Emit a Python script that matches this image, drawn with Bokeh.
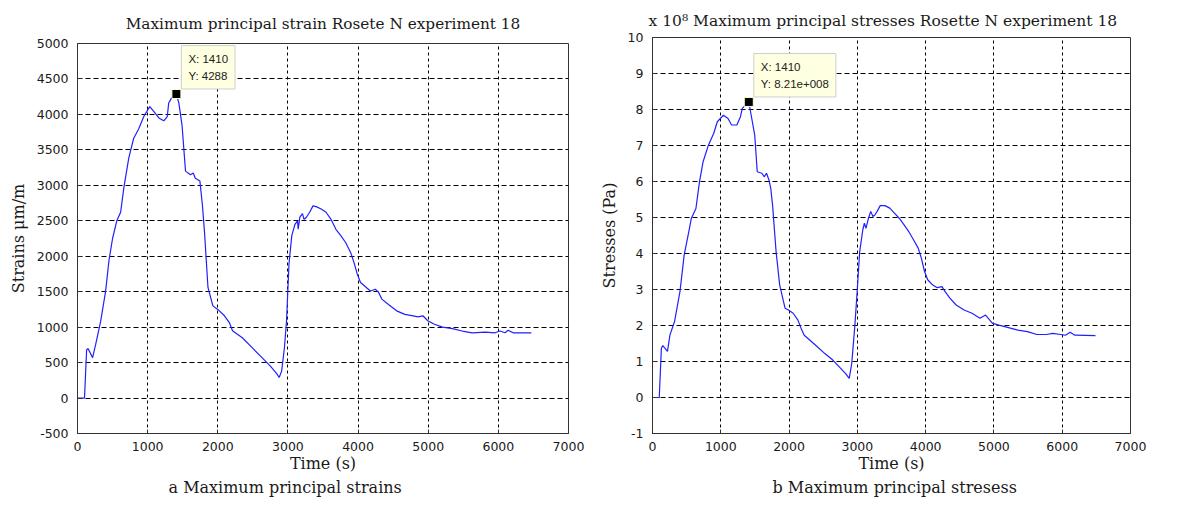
from bokeh.plotting import figure
from bokeh.models import Range1d, SingleIntervalTicker, Label, Title, PrintfTickFormatter
from bokeh.layouts import row, column
from bokeh.embed import file_html
from bokeh.resources import INLINE

# ---------------- data ----------------
strain_time = [0, 100, 130, 150, 215, 260, 330, 400, 450, 500, 560, 615, 660, 730, 800, 875,
               945, 1030, 1090, 1160, 1230, 1280, 1300, 1340, 1410, 1445, 1490, 1540, 1610,
               1650, 1680, 1745, 1780, 1810, 1860, 1930, 2000, 2095, 2165, 2210, 2350, 2490,
               2630, 2750, 2840, 2875, 2910, 2950, 2980, 3015, 3055, 3100, 3137, 3146, 3170,
               3207, 3230, 3263, 3310, 3357, 3403, 3474, 3544, 3614, 3684, 3754, 3825, 3895,
               3942, 3988, 4035, 4105, 4175, 4246, 4293, 4339, 4433, 4550, 4667, 4784, 4854,
               4924, 4994, 5088, 5205, 5345, 5485, 5626, 5813, 5953, 6023, 6094, 6140, 6211, 6470]
strain_vals = [0, 0, 680, 700, 570, 760, 1080, 1500, 1950, 2250, 2500, 2620, 2960, 3380, 3660,
               3800, 3970, 4110, 4040, 3950, 3910, 3970, 4160, 4230, 4288, 4160, 3850, 3200, 3150,
               3175, 3100, 3060, 2730, 2350, 1560, 1300, 1250, 1160, 1065, 950, 850, 710, 570, 450,
               345, 290, 380, 710, 1090, 1890, 2290, 2450, 2500, 2380, 2550, 2600, 2520, 2550,
               2620, 2710, 2700, 2665, 2620, 2520, 2380, 2290, 2190, 2050, 1910, 1750, 1630, 1570,
               1510, 1535, 1490, 1395, 1320, 1230, 1180, 1160, 1145, 1160, 1090, 1040, 1000, 980,
               945, 920, 930, 920, 945, 920, 955, 920, 920]

stress_time = [0, 99, 130, 151, 219, 256, 323, 402, 464, 532, 569, 636, 688, 741, 819, 897, 949,
               1038, 1106, 1158, 1236, 1288, 1315, 1350, 1410, 1445, 1497, 1534, 1601, 1638, 1669,
               1706, 1732, 1758, 1810, 1862, 1941, 1991, 2060, 2130, 2176, 2222, 2385, 2524, 2640,
               2756, 2825, 2881, 2918, 2964, 2997, 3034, 3080, 3103, 3126, 3163, 3196, 3228, 3256,
               3289, 3335, 3404, 3474, 3543, 3613, 3682, 3752, 3822, 3891, 3937, 3984, 4030, 4100,
               4169, 4239, 4285, 4355, 4447, 4563, 4679, 4795, 4878, 4980, 5073, 5212, 5351, 5490,
               5629, 5768, 5861, 5977, 6046, 6116, 6185, 6487]
stress_1e8 = [0, 0, 1.37, 1.44, 1.28, 1.74, 2.11, 2.94, 3.96, 4.61, 4.98, 5.25, 5.99, 6.55, 7.01,
              7.34, 7.66, 7.84, 7.75, 7.57, 7.57, 7.80, 8.03, 8.10, 8.21, 7.84, 7.29, 6.27, 6.23,
              6.13, 6.23, 6.04, 5.81, 5.35, 4.05, 3.13, 2.48, 2.43, 2.34, 2.15, 1.92, 1.73, 1.46,
              1.22, 1.04, 0.81, 0.67, 0.53, 0.95, 2.01, 2.94, 4.05, 4.66, 4.84, 4.70, 4.98, 5.17,
              5.03, 5.07, 5.17, 5.33, 5.33, 5.26, 5.12, 4.98, 4.80, 4.61, 4.38, 4.15, 3.87, 3.50,
              3.27, 3.13, 3.05, 3.08, 2.94, 2.76, 2.57, 2.43, 2.34, 2.20, 2.29, 2.06, 2.01, 1.94,
              1.87, 1.83, 1.75, 1.75, 1.78, 1.75, 1.73, 1.81, 1.73, 1.72]

tip_x = 1410
strain_tip_y = 4288
stress_tip_y = 8.21
strain_tip_text = "X: 1410\nY: 4288"
stress_tip_text = "X: 1410\nY: 8.21e+008"

title_a = "Maximum principal strain Rosete N experiment 18"
title_b = "x 10\u2078 Maximum principal stresses Rosette N experiment 18"
caption_a = "a  Maximum principal strains"
caption_b = "b  Maximum principal  stresess"

# ---------------- styling helpers ----------------
SERIF = "DejaVu Serif"
SANS = "DejaVu Sans"
LINE = "#2020ff"
INK = "#1a1a1a"


def style(p, xlab, ylab, yint, title_size, title_standoff):
    p.xaxis.ticker = SingleIntervalTicker(interval=1000)
    p.yaxis.ticker = SingleIntervalTicker(interval=yint)
    p.yaxis.formatter = PrintfTickFormatter(format="%d")
    for ax in (p.xaxis[0], p.yaxis[0]):
        ax.major_label_text_font = SANS
        ax.major_label_text_font_size = "12.5px"
        ax.major_label_text_color = INK
        ax.axis_label_text_font = SERIF
        ax.axis_label_text_font_size = "16px"
        ax.axis_label_text_font_style = "normal"
        ax.axis_label_text_color = INK
        ax.axis_line_color = "#333333"
        ax.major_tick_line_color = "#333333"
        ax.major_tick_in = 4
        ax.major_tick_out = 0
        ax.minor_tick_line_color = None
    p.xaxis.axis_label = xlab
    p.yaxis.axis_label = ylab
    p.xaxis.major_label_standoff = 4
    p.xaxis.axis_label_standoff = 0
    p.yaxis.major_label_standoff = 5
    p.yaxis.axis_label_standoff = 6
    p.xgrid.grid_line_color = "black"
    p.xgrid.grid_line_dash = "3 3"
    p.xgrid.grid_line_width = 1
    p.ygrid.grid_line_color = "black"
    p.ygrid.grid_line_dash = "5 3"
    p.ygrid.grid_line_width = 1
    p.outline_line_color = "#333333"
    p.outline_line_width = 1
    p.outline_line_alpha = 1
    p.background_fill_color = "white"
    p.border_fill_color = "white"
    p.title.text_font = SERIF
    p.title.text_font_size = title_size
    p.title.text_font_style = "normal"
    p.title.text_color = INK
    p.title.standoff = title_standoff


def caption(p, text, offset):
    t = Title(text=text, align="left", offset=offset, text_font=SERIF, text_font_size="16px",
              text_font_style="normal", text_color=INK, standoff=0)
    p.add_layout(t, "below")


def tip(p, y, text):
    p.scatter([tip_x], [y], marker="square", size=9, fill_color="black",
              line_color="#ffffcc", line_width=1)
    p.add_layout(Label(x=tip_x, y=y, x_offset=5, y_offset=5, text=text,
                       text_font="Liberation Sans", text_font_size="11.5px",
                       text_color="#222222", text_baseline="bottom", text_align="left",
                       text_line_height=1.45, background_fill_color="#ffffe1",
                       border_line_color="#cfcfcf", padding=7))


# ---------------- left figure ----------------
p1 = figure(width=590, height=500, min_border_left=77, min_border_right=22,
            min_border_top=43, min_border_bottom=67, x_range=Range1d(0, 7000),
            y_range=Range1d(-500, 5000), output_backend="svg", toolbar_location=None,
            title=title_a)
style(p1, "Time (s)", "Strains μm/m", 500, "15.3px", 21)
p1.title.align = "center"
p1.line(strain_time, strain_vals, line_color=LINE, line_width=1.2)
tip(p1, strain_tip_y, strain_tip_text)
caption(p1, caption_a, 91)

# ---------------- right figure ----------------
p2 = figure(width=581, height=500, min_border_left=62, min_border_right=41,
            min_border_top=37, min_border_bottom=67, x_range=Range1d(0, 7000),
            y_range=Range1d(-1, 10), output_backend="svg", toolbar_location=None,
            title=title_b)
style(p2, "Time (s)", "Stresses (Pa)", 1, "15.5px", 16)
p2.title.align = "left"
p2.title.offset = -4
p2.line(stress_time, stress_1e8, line_color=LINE, line_width=1.2)
tip(p2, stress_tip_y, stress_tip_text)
caption(p2, caption_b, 120)

layout = row(column(p1), column(p2))
open("out.html", "w").write(file_html(layout, INLINE))
